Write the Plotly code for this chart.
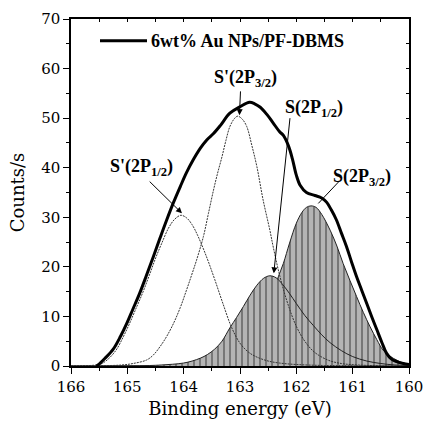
import plotly.graph_objects as go

# ---- data ----
env_x = [165.55, 165.52, 165.4, 165.25, 165.12, 165.01, 164.9, 164.78, 164.66, 164.54, 164.42,
         164.30, 164.18, 164.06, 163.95, 163.83, 163.70, 163.59, 163.47, 163.35, 163.18, 163.0,
         162.83, 162.74, 162.64, 162.52, 162.41, 162.30, 162.23, 162.14, 162.07, 162.0, 161.93,
         161.82, 161.67, 161.55, 161.46, 161.38, 161.29, 161.2, 161.11, 161.02, 160.93, 160.84,
         160.75, 160.66, 160.57, 160.48, 160.40, 160.31, 160.22, 160.1, 160.0]
env_y = [0.0, 0.2, 1.5, 3.4, 6.0, 8.6, 11.5, 14.7, 18.3, 22.0, 25.8,
         29.5, 33.0, 36.2, 39.0, 41.6, 44.0, 45.6, 46.9, 48.5, 51.0, 52.3,
         53.2, 52.9, 52.2, 50.7, 49.0, 47.3, 46.5, 44.4, 41.8, 38.5, 36.4,
         35.0, 34.4, 33.9, 33.0, 31.5, 29.5, 26.8, 24.1, 21.0, 18.0, 15.3,
         12.6, 9.9, 7.3, 4.7, 2.6, 1.4, 0.9, 0.5, 0.3]

sp12_x = [166.0, 165.8, 165.6, 165.47, 165.35, 165.2, 165.08, 164.96, 164.85, 164.73, 164.61,
          164.49, 164.38, 164.27, 164.16, 164.05, 163.95, 163.85, 163.75, 163.6, 163.45, 163.3,
          163.15, 163.0, 162.85, 162.7, 162.5, 162.3, 162.0, 161.5, 161.0, 160.0]
sp12_y = [0.0, 0.05, 0.15, 0.4, 1.3, 3.2, 5.7, 8.6, 11.5, 14.7, 18.3,
          22.0, 25.0, 27.8, 29.6, 30.4, 29.9, 28.5, 26.3, 22.2, 17.5, 12.5,
          7.8, 4.6, 2.8, 1.8, 1.0, 0.6, 0.3, 0.1, 0.05, 0.0]

sp32_x = [166.0, 165.5, 165.1, 164.9, 164.66, 164.54, 164.42, 164.30, 164.18, 164.06, 163.95,
          163.86, 163.77, 163.65, 163.56, 163.47, 163.40, 163.32, 163.25, 163.18, 163.10, 163.04,
          162.96, 162.88, 162.79, 162.70, 162.59, 162.47, 162.41, 162.29, 162.15, 162.0, 161.85,
          161.68, 161.44, 161.2, 160.9, 160.5, 160.0]
sp32_y = [0.0, 0.05, 0.2, 0.5, 1.2, 2.2, 3.9, 6.0, 8.6, 11.8, 15.3,
          18.3, 21.4, 26.1, 30.8, 35.5, 38.8, 42.2, 45.5, 48.3, 49.9, 50.4,
          49.8, 48.3, 44.5, 40.2, 33.5, 27.4, 24.0, 18.0, 12.5, 8.0, 5.0,
          2.8, 1.2, 0.5, 0.2, 0.05, 0.0]

s12_x = [166.0, 165.0, 164.6, 164.4, 164.2, 164.0, 163.85, 163.7, 163.58, 163.45, 163.32,
         163.18, 163.06, 162.94, 162.82, 162.7, 162.58, 162.47, 162.36, 162.24, 162.12, 162.0,
         161.85, 161.70, 161.55, 161.40, 161.2, 161.0, 160.75, 160.5, 160.25, 160.0]
s12_y = [0.0, 0.05, 0.1, 0.2, 0.35, 0.6, 1.0, 1.6, 2.3, 3.4, 5.0,
         7.7, 9.8, 12.0, 14.3, 16.3, 17.7, 18.2, 17.8, 16.4, 14.6, 12.6,
         10.2, 8.2, 6.3, 4.7, 3.1, 1.9, 1.0, 0.5, 0.2, 0.1]

s32_x = [166.0, 164.5, 164.0, 163.6, 163.34, 163.14, 162.94, 162.74, 162.54, 162.42, 162.32,
         162.23, 162.12, 162.0, 161.90, 161.82, 161.74, 161.65, 161.55, 161.40, 161.28, 161.17,
         161.05, 160.93, 160.81, 160.69, 160.57, 160.46, 160.34, 160.22, 160.1, 160.0]
s32_y = [0.0, 0.02, 0.1, 0.3, 0.4, 1.1, 2.6, 5.7, 10.6, 14.5, 18.0,
         20.7, 24.8, 28.8, 31.0, 32.0, 32.3, 32.0, 30.6, 27.4, 24.2, 20.7,
         17.3, 14.0, 10.8, 7.9, 5.3, 3.2, 2.0, 1.2, 0.6, 0.3]

x_ticks = [166, 165, 164, 163, 162, 161, 160]
y_ticks = [0, 10, 20, 30, 40, 50, 60, 70]
legend_label = "6wt% Au NPs/PF-DBMS"

# peak labels: (text, x, y) and arrows: (tail x, tail y, head x, head y, head style)
peak_labels = [("S'(2P<sub>3/2</sub>)", 162.91, 58.0),
               ("S(2P<sub>1/2</sub>)", 161.69, 52.0),
               ("S'(2P<sub>1/2</sub>)", 164.745, 40.1),
               ("S(2P<sub>3/2</sub>)", 160.83, 38.1)]
arrows = [(162.99, 55.7, 163.01, 50.6, 2),
          (162.11, 50.3, 162.40, 18.7, 2),
          (164.63, 37.5, 164.03, 30.8, 2),
          (161.22, 37.5, 161.61, 32.8, 0)]

BOLD_FONT = "Liberation Serif"   # bold serif face
REG_FONT = "DejaVu Serif"        # regular serif face

fig = go.Figure()
hatch = dict(shape="|", bgcolor="#b4b4b4", fgcolor="#111111", size=6, solidity=0.25)
fig.add_trace(go.Scatter(x=s32_x, y=s32_y, mode="lines", fill="tozeroy", fillpattern=hatch,
                         line=dict(color="#222", width=1, shape="spline"), showlegend=False))
fig.add_trace(go.Scatter(x=s12_x, y=s12_y, mode="lines", fill="tozeroy", fillpattern=hatch,
                         line=dict(color="#222", width=1, shape="spline"), showlegend=False))
fig.add_trace(go.Scatter(x=sp12_x, y=sp12_y, mode="lines",
                         line=dict(color="#333", width=1, dash="2px,1px", shape="spline"), showlegend=False))
fig.add_trace(go.Scatter(x=sp32_x, y=sp32_y, mode="lines",
                         line=dict(color="#333", width=1, dash="2px,1px", shape="spline"), showlegend=False))
fig.add_trace(go.Scatter(x=env_x, y=env_y, mode="lines", name=legend_label,
                         line=dict(color="black", width=3, shape="spline"), showlegend=False))
# invisible trace for the mirrored top/right axes
fig.add_trace(go.Scatter(x=env_x, y=env_y, xaxis="x2", yaxis="y2", mode="lines",
                         line=dict(width=0), hoverinfo="skip", showlegend=False))

axis_common = dict(showgrid=False, zeroline=False, showline=True, linecolor="black", linewidth=1.5,
                   automargin=False)
fig.update_layout(
    width=423, height=424,
    margin=dict(l=71, r=14, t=19, b=58, autoexpand=False),
    paper_bgcolor="white", plot_bgcolor="white",
    font=dict(family=REG_FONT, color="black"),
    xaxis=dict(range=[166, 160], tickvals=x_ticks, ticks="outside", ticklen=6, tickwidth=1.2,
               tickcolor="black", tickfont=dict(size=15, family=REG_FONT), ticklabeloverflow="allow",
               minor=dict(dtick=0.5, ticks="outside", ticklen=3.5, tickwidth=1.2, tickcolor="black"),
               title=dict(text="Binding energy (eV)", font=dict(size=18, family=REG_FONT), standoff=8),
               **axis_common),
    yaxis=dict(range=[0, 70], tickvals=y_ticks, ticks="outside", ticklen=6, tickwidth=1.2,
               tickcolor="black", tickfont=dict(size=15, family=REG_FONT), ticklabeloverflow="allow",
               minor=dict(dtick=5, ticks="outside", ticklen=3.5, tickwidth=1.2, tickcolor="black"),
               title=dict(text="Counts/s", font=dict(size=18, family=REG_FONT), standoff=12),
               **axis_common),
    xaxis2=dict(range=[166, 160], overlaying="x", side="top", anchor="y2", dtick=0.5, ticks="inside",
                ticklen=3, tickwidth=1, tickcolor="black", showticklabels=False, **axis_common),
    yaxis2=dict(range=[0, 70], overlaying="y", side="right", anchor="x2", dtick=5, ticks="inside",
                ticklen=3, tickwidth=1, tickcolor="black", showticklabels=False, **axis_common),
)

for txt, x, y in peak_labels:
    fig.add_annotation(x=x, y=y, text="<b>" + txt + "</b>", showarrow=False,
                       font=dict(size=18, family=BOLD_FONT, color="black"))
for tx, ty, hx, hy, head in arrows:
    fig.add_annotation(x=hx, y=hy, ax=tx, ay=ty, axref="x", ayref="y", text="",
                       showarrow=True, arrowhead=head, arrowsize=1.2, arrowwidth=1, arrowcolor="black")

# legend drawn as line sample + text
fig.add_shape(type="line", xref="paper", yref="paper", x0=(100 - 71) / 338, x1=(147 - 71) / 338,
              y0=(366 - 40.7) / 347, y1=(366 - 40.7) / 347, line=dict(color="black", width=3))
fig.add_annotation(xref="paper", yref="paper", x=(149 - 71) / 338, y=(366 - 40.7) / 347,
                   xanchor="left", yanchor="middle", text="<b>" + legend_label + "</b>",
                   showarrow=False, font=dict(size=18, family=BOLD_FONT, color="black"))

fig.write_html("out.html")
